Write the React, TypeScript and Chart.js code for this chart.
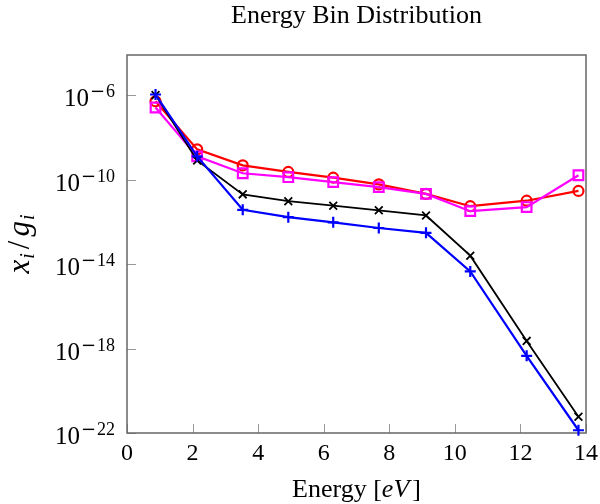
import React, { useEffect, useRef } from 'react';
import { Chart, registerables } from 'chart.js';
Chart.register(...registerables);

const energies = [0.87, 2.14, 3.53, 4.92, 6.29, 7.68, 9.12, 10.47, 12.19, 13.77];
const blueVals = [1.07e-6, 1.26e-9, 3.7e-12, 1.66e-12, 9.5e-13, 5.1e-13, 3.0e-13, 4.5e-15, 4.5e-19, 1.35e-22];
const blackVals = [1.0e-6, 8.1e-10, 2.0e-11, 9.5e-12, 5.8e-12, 3.5e-12, 2.0e-12, 2.5e-14, 2.3e-18, 5.9e-22];
const redVals = [5.1e-7, 2.7e-9, 4.7e-10, 2.3e-10, 1.23e-10, 5.9e-11, 2.1e-11, 5.5e-12, 1.0e-11, 2.9e-11];
const magentaVals = [2.6e-7, 1.26e-9, 2.0e-10, 1.3e-10, 7.6e-11, 4.4e-11, 2.1e-11, 3.2e-12, 5.0e-12, 1.6e-10];

const xTicks = [0, 2, 4, 6, 8, 10, 12, 14];
const yTickExps = [-22, -18, -14, -10, -6];
const titleText = 'Energy Bin Distribution';

const SERIF = '"Liberation Serif", "Times New Roman", serif';

const pts = (vals: number[]) => energies.map((x, i) => ({ x, y: vals[i] }));

const pgfPlugin = {
  id: 'pgf',
  beforeDatasetsDraw(chart: any) {
    const { ctx, chartArea: a, scales } = chart;
    ctx.save();
    ctx.strokeStyle = '#999';
    ctx.lineWidth = 1;
    xTicks.forEach((v) => {
      const px = Math.round(scales.x.getPixelForValue(v)) + 0.5;
      ctx.beginPath();
      ctx.moveTo(px, a.bottom);
      ctx.lineTo(px, a.bottom - 9);
      ctx.stroke();
    });
    yTickExps.forEach((e) => {
      const py = Math.round(scales.y.getPixelForValue(Math.pow(10, e))) + 0.5;
      ctx.beginPath();
      ctx.moveTo(a.left, py);
      ctx.lineTo(a.left + 9, py);
      ctx.stroke();
    });
    ctx.strokeStyle = '#666';
    ctx.lineWidth = 1.5;
    ctx.strokeRect(a.left, a.top, a.right - a.left, a.bottom - a.top);
    ctx.restore();
  },
  afterDraw(chart: any) {
    const { ctx, chartArea: a, scales } = chart;
    ctx.save();
    ctx.fillStyle = '#000';
    // title
    ctx.font = `26px ${SERIF}`;
    ctx.textAlign = 'center';
    ctx.textBaseline = 'alphabetic';
    ctx.fillText(titleText, (a.left + a.right) / 2, 23);
    // x tick labels
    ctx.font = `24px ${SERIF}`;
    xTicks.forEach((v) => {
      const px = scales.x.getPixelForValue(v);
      ctx.fillText(String(v), px, a.bottom + 27);
    });
    // y tick labels
    yTickExps.forEach((e) => {
      const py = scales.y.getPixelForValue(Math.pow(10, e));
      const right = a.left - 12;
      ctx.textAlign = 'right';
      ctx.font = `18px ${SERIF}`;
      const digits = String(-e);
      const dw = ctx.measureText(digits).width + 1;
      ctx.fillText(digits, right, py + 2);
      ctx.font = `18px "DejaVu Serif", serif`;
      const mw = ctx.measureText('\u2212').width;
      ctx.fillText('\u2212', right - dw, py + 2);
      ctx.font = `25px ${SERIF}`;
      ctx.fillText('10', right - dw - mw - 1, py + 11);
    });
    // x axis label
    const base = a.bottom + 64;
    const parts: [string, string][] = [
      ['Energy [', `26px ${SERIF}`],
      ['eV', `italic 26px ${SERIF}`],
      [']', `26px ${SERIF}`],
    ];
    let total = 0;
    parts.forEach(([t, f]) => { ctx.font = f; total += ctx.measureText(t).width + (t === 'eV' ? 3 : 0); });
    let cx = (a.left + a.right) / 2 - total / 2;
    ctx.textAlign = 'left';
    parts.forEach(([t, f]) => { ctx.font = f; ctx.fillText(t, cx, base); cx += ctx.measureText(t).width + (t === 'eV' ? 3 : 0); });
    // y axis label
    ctx.translate(29, (a.top + a.bottom) / 2);
    ctx.rotate(-Math.PI / 2);
    const yparts: [string, string, number, number][] = [
      ['x', `italic 31px ${SERIF}`, 0, 1],
      ['i', `italic 20px ${SERIF}`, 5, 4],
      ['/', `31px ${SERIF}`, 0, 4],
      ['g', `italic 31px ${SERIF}`, 0, 1],
      ['i', `italic 20px ${SERIF}`, 5, 0],
    ];
    let yt = 0;
    yparts.forEach(([t, f, , gap]) => { ctx.font = f; yt += ctx.measureText(t).width + gap; });
    let yx = -yt / 2;
    yparts.forEach(([t, f, dy, gap]) => { ctx.font = f; ctx.fillText(t, yx, dy); yx += ctx.measureText(t).width + gap; });
    ctx.restore();
  },
};

export default function App() {
  const ref = useRef<HTMLCanvasElement | null>(null);
  useEffect(() => {
    if (!ref.current) return;
    const mk = (label: string, vals: number[], color: string, style: string, radius: number, width: number, order: number) => ({
      label,
      data: pts(vals),
      borderColor: color,
      backgroundColor: 'transparent',
      pointBorderColor: color,
      pointBackgroundColor: 'transparent',
      pointStyle: style,
      pointRadius: radius,
      pointBorderWidth: width,
      borderWidth: width,
      order,
      clip: false as any,
    });
    const chart = new Chart(ref.current, {
      type: 'line',
      data: {
        datasets: [
          mk('blue', blueVals, '#0000ff', 'cross', 5.5, 2.2, 1),
          mk('black', blackVals, '#000000', 'crossRot', 5.5, 1.8, 2),
          mk('magenta', magentaVals, '#ff00ff', 'rect', 6.8, 2.2, 3),
          mk('red', redVals, '#ff0000', 'circle', 5, 2.2, 4),
        ] as any,
      },
      options: {
        animation: false,
        responsive: false,
        maintainAspectRatio: false,
        layout: { padding: { left: 127, right: 14, top: 55, bottom: 71 } },
        plugins: { legend: { display: false }, tooltip: { enabled: false }, title: { display: false } },
        scales: {
          x: { type: 'linear', min: 0, max: 14, display: false },
          y: { type: 'logarithmic', min: 1e-22, max: Math.pow(10, -4.1), display: false },
        },
      },
      plugins: [pgfPlugin],
    });
    return () => chart.destroy();
  }, []);
  return (
    <div style={{ position: 'fixed', left: 0, top: 0, width: 600, height: 504, background: '#fff' }}>
      <canvas ref={ref} width={600} height={504} style={{ display: 'block' }} />
    </div>
  );
}
